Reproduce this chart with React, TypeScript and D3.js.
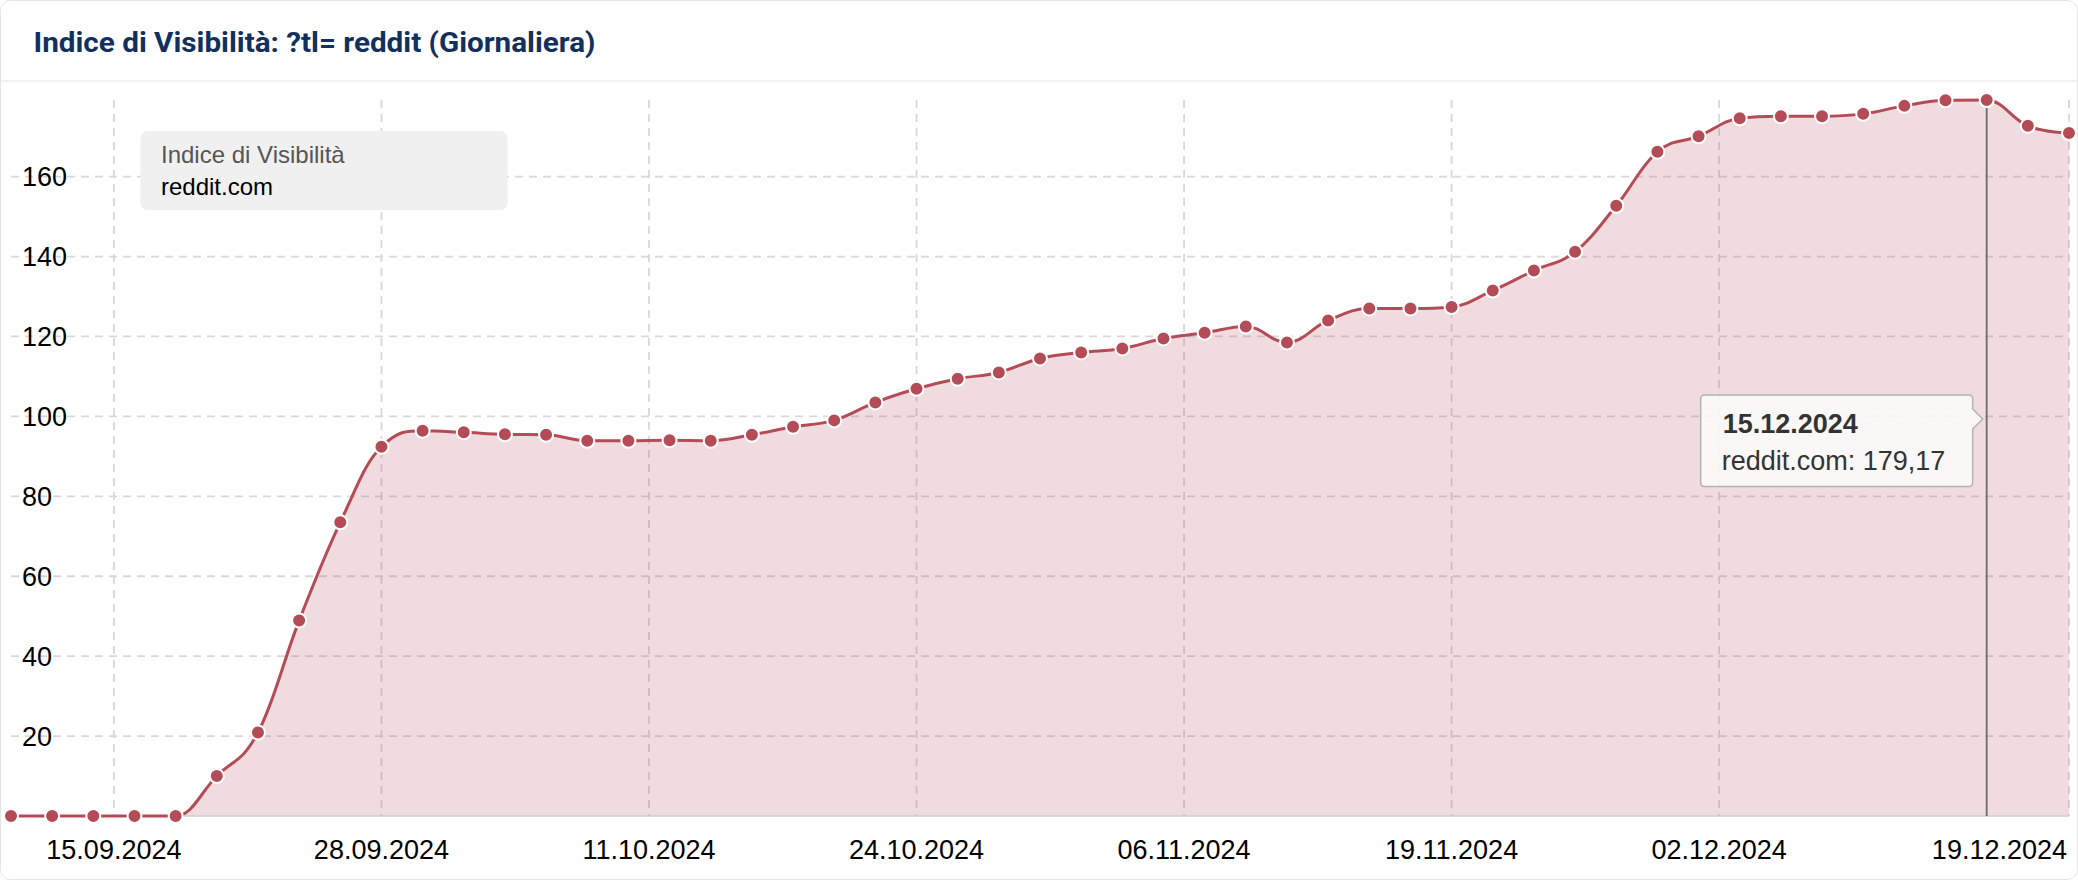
import React from 'react';
import * as d3 from 'd3';

const chartTitle = 'Indice di Visibilità: ?tl= reddit (Giornaliera)';
const legendTitle = 'Indice di Visibilità';
const seriesName = 'reddit.com';

const dates = [
  '2024-09-10', '2024-09-12', '2024-09-14', '2024-09-16', '2024-09-18', '2024-09-20', '2024-09-22', '2024-09-24', '2024-09-26', '2024-09-28', '2024-09-30',
  '2024-10-02', '2024-10-04', '2024-10-06', '2024-10-08', '2024-10-10', '2024-10-12', '2024-10-14', '2024-10-16', '2024-10-18', '2024-10-20', '2024-10-22', '2024-10-24', '2024-10-26', '2024-10-28', '2024-10-30',
  '2024-11-01', '2024-11-03', '2024-11-05', '2024-11-07', '2024-11-09', '2024-11-11', '2024-11-13', '2024-11-15', '2024-11-17', '2024-11-19', '2024-11-21', '2024-11-23', '2024-11-25', '2024-11-27', '2024-11-29',
  '2024-12-01', '2024-12-03', '2024-12-05', '2024-12-07', '2024-12-09', '2024-12-11', '2024-12-13', '2024-12-15', '2024-12-17', '2024-12-19',
];

const values = [
  0, 0, 0, 0, 0, 10.0, 20.9, 48.9, 73.5, 92.4, 96.4,
  96.0, 95.5, 95.4, 93.9, 93.9, 94.0, 93.9, 95.4, 97.4, 99.0, 103.5, 106.9, 109.4, 111.0, 114.5,
  116.0, 117.0, 119.5, 120.9, 122.5, 118.5, 124.0, 127.0, 127.0, 127.4, 131.5, 136.5, 141.2, 152.7, 166.2,
  170.1, 174.6, 175.1, 175.1, 175.7, 177.7, 179.1, 179.17, 172.7, 170.9,
];

const xTickDates = ['2024-09-15', '2024-09-28', '2024-10-11', '2024-10-24', '2024-11-06', '2024-11-19', '2024-12-02', '2024-12-19'];
const yTicks = [20, 40, 60, 80, 100, 120, 140, 160];
const tooltipDate = '2024-12-15';

const W = 2078;
const H = 880;
const COLOR = '#b44c58';

function hcSpline(pts: [number, number][]): string {
  const s = 1.5;
  const den = s + 1;
  const n = pts.length;
  const left: ([number, number] | null)[] = [];
  const right: ([number, number] | null)[] = [];
  for (let i = 0; i < n; i++) {
    if (i > 0 && i < n - 1) {
      const [px, py] = pts[i];
      const [lx, ly] = pts[i - 1];
      const [nx, ny] = pts[i + 1];
      const lcx = (s * px + lx) / den;
      let lcy = (s * py + ly) / den;
      const rcx = (s * px + nx) / den;
      let rcy = (s * py + ny) / den;
      let corr = 0;
      if (rcx !== lcx) corr = ((rcy - lcy) * (rcx - px)) / (rcx - lcx) + py - rcy;
      lcy += corr;
      rcy += corr;
      if (lcy > ly && lcy > py) { lcy = Math.max(ly, py); rcy = 2 * py - lcy; }
      else if (lcy < ly && lcy < py) { lcy = Math.min(ly, py); rcy = 2 * py - lcy; }
      if (rcy > ny && rcy > py) { rcy = Math.max(ny, py); lcy = 2 * py - rcy; }
      else if (rcy < ny && rcy < py) { rcy = Math.min(ny, py); lcy = 2 * py - rcy; }
      left[i] = [lcx, lcy];
      right[i] = [rcx, rcy];
    } else {
      left[i] = null;
      right[i] = null;
    }
  }
  let d = `M${pts[0][0]},${pts[0][1]}`;
  for (let i = 1; i < n; i++) {
    const a = right[i - 1] ?? pts[i - 1];
    const b = left[i] ?? pts[i];
    d += `C${a[0]},${a[1]},${b[0]},${b[1]},${pts[i][0]},${pts[i][1]}`;
  }
  return d;
}

export default function App() {
  const parse = d3.utcParse('%Y-%m-%d');
  const fmt = d3.utcFormat('%d.%m.%Y');
  const data = dates.map((d, i) => ({ date: parse(d) as Date, value: values[i] }));

  const plotTop = 100;
  const plotBottom = 816;
  const plotLeft = 11;
  const plotRight = 2069;

  const x = d3.scaleUtc().domain([data[0].date, data[data.length - 1].date]).range([plotLeft, plotRight]);
  const y = d3.scaleLinear().domain([0, d3.max(values) as number]).range([plotBottom, plotTop]);

  const pts: [number, number][] = data.map((d) => [x(d.date), y(d.value)]);
  const linePath = hcSpline(pts);
  const areaPath = `${linePath}L${pts[pts.length - 1][0]},${y(0)}L${pts[0][0]},${y(0)}Z`;

  const tipIdx = dates.indexOf(tooltipDate);
  const tipX = x(data[tipIdx].date);
  const tipTop = 395;
  const tipBottom = 486.5;
  const boxRight = tipX - 14;
  const boxLeft = boxRight - 272;
  const anchorY = 419;
  const r = 4;
  const tooltipPath = [
    `M${boxLeft + r},${tipTop}`,
    `L${boxRight - r},${tipTop}`,
    `Q${boxRight},${tipTop} ${boxRight},${tipTop + r}`,
    `L${boxRight},${anchorY - 10}`,
    `L${tipX - 4},${anchorY}`,
    `L${boxRight},${anchorY + 10}`,
    `L${boxRight},${tipBottom - r}`,
    `Q${boxRight},${tipBottom} ${boxRight - r},${tipBottom}`,
    `L${boxLeft + r},${tipBottom}`,
    `Q${boxLeft},${tipBottom} ${boxLeft},${tipBottom - r}`,
    `L${boxLeft},${tipTop + r}`,
    `Q${boxLeft},${tipTop} ${boxLeft + r},${tipTop}`,
    'Z',
  ].join(' ');
  const valueText = d3.format('.2f')(data[tipIdx].value).replace('.', ',');

  const axisFont = '"Liberation Sans", Arial, sans-serif';

  return (
    <div style={{ position: 'absolute', left: 0, top: 0, width: W, height: H, background: '#fff' }}>
      <svg width={W} height={H} viewBox={`0 0 ${W} ${H}`} style={{ display: 'block' }}>
        <rect x={0.5} y={0.5} width={W - 1} height={H - 1} rx={10} fill="#fff" stroke="#e4e4e4" />
        <text
          x={33.5}
          y={52}
          fontFamily="Roboto, sans-serif"
          fontWeight={700}
          fontSize={28}
          fill="#11305e"
          textLength={562}
          lengthAdjust="spacingAndGlyphs"
        >
          {chartTitle}
        </text>
        <line x1={1} x2={W - 1} y1={81} y2={81} stroke="#ececec" strokeWidth={1.5} />

        {/* grid */}
        <g>
          {yTicks.map((t) => (
            <line key={`gy${t}`} x1={plotLeft} x2={plotRight} y1={y(t)} y2={y(t)} stroke="#d8d8d8" strokeWidth={1.8} strokeDasharray="8,6" />
          ))}
          {xTickDates.map((t) => {
            const xx = x(parse(t) as Date);
            return <line key={`gx${t}`} x1={xx} x2={xx} y1={plotTop} y2={plotBottom} stroke="#d8d8d8" strokeWidth={1.8} strokeDasharray="8,6" />;
          })}
        </g>

        {/* area */}
        <path d={areaPath} fill={COLOR} fillOpacity={0.2} stroke="none" />
        <line x1={plotLeft} x2={plotRight} y1={y(0)} y2={y(0)} stroke="#d3cbcc" strokeWidth={1.5} />

        {/* crosshair */}
        <line x1={tipX} x2={tipX} y1={y(data[tipIdx].value)} y2={plotBottom} stroke="#6b6b6b" strokeWidth={1.8} />

        <path d={linePath} fill="none" stroke={COLOR} strokeWidth={3} strokeLinejoin="round" strokeLinecap="round" />
        {pts.map((p, i) => (
          <circle key={`m${i}`} cx={p[0]} cy={p[1]} r={7} fill={COLOR} stroke="#fff" strokeWidth={2} />
        ))}

        {/* y labels */}
        {yTicks.map((t) => (
          <text key={`ly${t}`} x={22} y={y(t) + 9.5} fontFamily={axisFont} fontSize={27} fill="#000">
            {t}
          </text>
        ))}

        {/* x labels */}
        {xTickDates.map((t, i) => {
          const xx = x(parse(t) as Date);
          const last = i === xTickDates.length - 1;
          return (
            <text
              key={`lx${t}`}
              x={last ? 2067 : xx}
              y={859}
              textAnchor={last ? 'end' : 'middle'}
              fontFamily={axisFont}
              fontSize={27}
              fill="#000"
            >
              {fmt(parse(t) as Date)}
            </text>
          );
        })}

        {/* legend */}
        <rect x={140.5} y={131} width={367} height={79} rx={7} fill="#f0f0f0" />
        <text x={161} y={163} fontFamily={axisFont} fontSize={24} fill="#555">
          {legendTitle}
        </text>
        <text x={161} y={195} fontFamily={axisFont} fontSize={24} fill="#000">
          {seriesName}
        </text>

        {/* tooltip */}
        <path d={tooltipPath} fill="rgba(250,250,250,0.88)" stroke="#b3b3b3" strokeWidth={1.5} />
        <text x={boxLeft + 22} y={433} fontFamily={axisFont} fontSize={27} fontWeight={700} fill="#333">
          {fmt(data[tipIdx].date)}
        </text>
        <text x={boxLeft + 21} y={470} fontFamily={axisFont} fontSize={27} fill="#333">
          {`${seriesName}: ${valueText}`}
        </text>
      </svg>
    </div>
  );
}
